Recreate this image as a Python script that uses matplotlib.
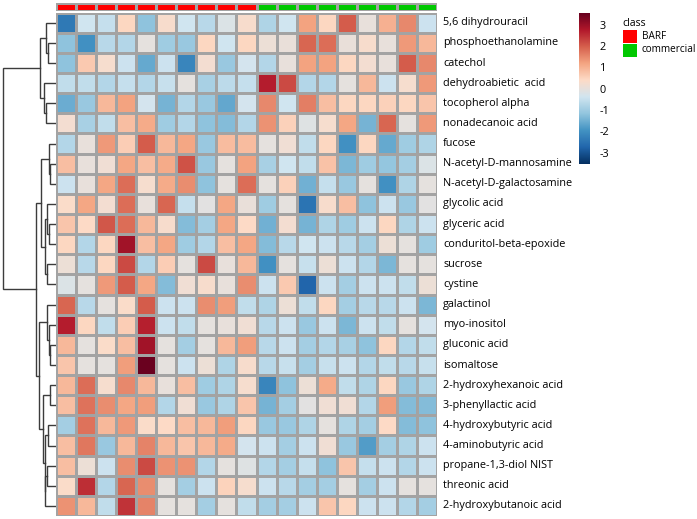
import numpy as np
import matplotlib
matplotlib.use("Agg")
import matplotlib.pyplot as plt
from matplotlib.colors import LinearSegmentedColormap, ListedColormap

# metabolite names (rows, top to bottom in clustered order)
metabolites = [
    "5,6 dihydrouracil", "phosphoethanolamine", "catechol", "dehydroabietic  acid",
    "tocopherol alpha", "nonadecanoic acid", "fucose", "N-acetyl-D-mannosamine",
    "N-acetyl-D-galactosamine", "glycolic acid", "glyceric acid",
    "conduritol-beta-epoxide", "sucrose", "cystine", "galactinol", "myo-inositol",
    "gluconic acid", "isomaltose", "2-hydroxyhexanoic acid", "3-phenyllactic acid",
    "4-hydroxybutyric acid", "4-aminobutyric acid", "propane-1,3-diol NIST",
    "threonic acid", "2-hydroxybutanoic acid",
]

# sample classes (columns)
sample_class = ["BARF"] * 10 + ["commercial"] * 9
class_colors = {"BARF": "#ff0000", "commercial": "#00c800"}

# autoscaled concentrations, one list per metabolite (19 samples)
z = [
    [-2.4, -0.4, -0.55, 0.45, -1.2, 0.3, -0.4, -0.7, -0.2, 0.3, -0.8, -0.4, 1.2, 0.45, 2.0, 0.0, 1.0, 1.5, -0.45],
    [-1.2, -2.0, -0.7, -0.75, -0.05, -1.0, -1.1, 0.45, -0.4, 0.45, 0.1, 0.05, 1.9, 1.8, 0.05, 0.3, 0.0, 1.3, 0.9],
    [-1.2, 0.65, 0.25, -0.45, -1.6, -0.45, -2.2, 0.2, -1.1, -0.35, -0.75, 0.0, 1.2, 1.2, 0.45, 0.2, 0.0, 2.0, 1.5],
    [-0.6, -0.6, -0.75, -0.55, -0.75, -0.5, -0.05, -0.9, -0.65, -0.55, 2.7, 2.2, -0.75, -0.75, -0.05, 0.9, -0.45, 0.25, 1.3],
    [-1.55, -1.1, 0.9, 1.2, -0.35, -1.45, -0.75, -1.1, -1.65, -0.35, 1.5, -0.4, 1.6, 0.8, 0.45, 0.45, 0.55, 0.45, 0.7],
    [0.2, -0.9, -0.6, 0.8, 1.1, -1.0, -0.75, -1.2, -1.3, -0.75, 1.4, 0.55, -0.15, 0.25, 1.15, -1.45, 1.9, -0.05, 1.3],
    [-0.75, 0.0, 1.3, 0.6, 2.0, 0.9, 1.15, -1.1, 0.85, 0.85, -0.05, 0.15, -0.6, 0.45, -2.0, 0.45, -1.6, -1.0, -0.8],
    [0.8, 0.0, 0.15, 1.15, 0.8, 1.1, 2.1, -1.1, -0.05, 1.2, -0.9, -0.4, -0.6, 0.75, -1.4, -1.0, -1.15, -0.95, -0.2],
    [-0.45, 0.0, 1.15, 1.8, 0.25, 1.1, 1.45, -1.2, -0.05, 1.8, -0.05, 0.55, -1.5, -0.55, -1.1, -0.05, -2.0, -0.8, -0.05],
    [0.35, 1.15, 0.2, 1.8, 0.0, 1.9, -0.55, -0.1, 1.15, 0.05, -1.0, -0.05, -2.5, 0.3, 0.8, -1.2, -0.45, -1.1, -0.1],
    [0.7, 0.4, 2.05, 1.8, 0.9, 0.3, -1.3, -0.95, 1.15, 0.4, -1.5, 0.2, -1.45, -0.8, -1.0, -0.45, 0.45, -0.8, -0.45],
    [0.45, -0.75, 0.45, 2.9, 0.8, 1.15, -1.0, -0.75, 0.8, 1.15, -1.3, -0.7, -0.4, -0.45, -0.7, -0.95, 0.1, -0.05, -1.0],
    [0.1, -0.7, 0.45, 2.2, -0.75, 0.6, -0.05, 2.2, 0.0, 0.9, -2.0, -0.05, -0.5, 0.1, -0.45, -0.75, -1.4, -0.05, -0.05],
    [-0.2, -0.05, 1.3, 2.0, 1.15, -1.3, 0.15, 0.3, 0.0, 1.45, -0.45, 0.65, -2.75, -0.45, -0.95, -0.45, -0.45, -0.6, 0.1],
    [1.9, -0.7, -0.05, 0.35, 2.0, -0.45, -0.45, 1.45, 1.25, -0.6, -0.8, 0.1, -0.6, 0.45, -0.95, -0.7, -0.7, -0.45, -1.4],
    [2.7, 0.45, -0.6, 0.6, 2.65, -0.45, -0.6, -0.05, 0.0, 0.15, -0.7, -0.45, -1.1, -0.45, -1.4, -0.45, -0.6, -0.05, -0.35],
    [0.9, -0.05, 0.35, 0.8, 2.9, -0.05, -0.95, -0.05, 0.9, 1.25, -0.7, -0.45, -0.95, -0.75, -0.9, -1.2, 0.45, -0.75, -0.6],
    [0.7, -0.05, -0.05, 1.25, 3.5, -0.05, -0.45, 0.1, -0.8, 0.3, -0.7, -0.5, -0.95, -0.5, -0.45, -0.75, -0.6, -0.7, -0.5],
    [0.9, 1.8, 0.25, 1.5, 0.9, 0.0, 0.8, -1.0, -0.8, 0.25, -2.2, -1.2, 0.1, 1.1, -0.6, -0.8, 0.45, -1.1, -0.8],
    [0.8, 1.75, 1.45, 1.15, 1.25, -0.75, 0.15, -1.1, -0.8, 0.7, -1.45, -0.95, -0.1, 0.15, 0.15, -0.75, 1.25, -1.3, -1.3],
    [-0.95, 1.75, 0.9, 1.3, 0.35, 0.4, 0.8, 0.9, 1.25, 0.45, -1.1, -1.1, -0.8, -0.05, -0.8, -0.95, 0.4, -1.3, -1.2],
    [0.8, 1.7, -1.1, 0.9, 1.55, 0.9, 0.7, 0.9, 1.1, -0.35, -0.45, -0.95, -0.45, 0.15, -1.1, -1.8, -0.95, -0.8, -0.45],
    [0.8, 0.1, -0.45, 1.45, 2.2, 1.4, 1.4, -0.75, -0.05, -0.15, -0.75, -0.95, -0.55, -1.2, 0.7, -0.55, -0.45, -0.75, -0.45],
    [0.35, 2.5, -0.75, 1.9, 1.45, -0.05, -0.95, -0.45, 0.5, 0.25, -0.45, -0.7, -0.95, -0.95, -0.05, -0.95, -0.45, -0.05, -0.05],
    [1.4, 0.9, -0.6, 2.45, 1.55, -0.05, -0.05, -0.95, -0.05, -0.6, -0.95, -0.95, -0.45, 0.7, 0.45, -0.45, -0.45, -0.75, -0.95],
]

# row clustering: (left, right, height); new clusters numbered from 25 upward
row_linkage = [
    (1, 2, 7.7), (0, 25, 10.3), (4, 5, 10.0), (3, 27, 11.7), (26, 28, 16.0),
    (7, 8, 6.0), (6, 30, 7.0), (10, 11, 6.5), (9, 32, 9.0), (12, 13, 9.3),
    (33, 34, 11.0), (31, 35, 15.5), (16, 17, 6.0), (15, 37, 6.5), (14, 38, 9.3),
    (18, 19, 6.0), (20, 21, 7.5), (22, 23, 9.0), (42, 24, 10.5), (41, 43, 11.0),
    (40, 44, 12.7), (39, 45, 17.5), (36, 46, 20.3), (29, 47, 53.3),
]

vmin, vmax = -3.53, 3.53
cmap = LinearSegmentedColormap.from_list(
    "rdbu10", ["#053061", "#2166AC", "#4393C3", "#92C5DE", "#D1E5F0",
               "#FDDBC7", "#F4A582", "#D6604D", "#B2182B", "#67001F"], N=256)

plt.rcParams["font.family"] = ["Open Sans", "DejaVu Sans"]
plt.rcParams["axes.unicode_minus"] = False

W, H = 697, 519
fig = plt.figure(figsize=(W / 100, H / 100), dpi=100)


def px_axes(x0, y0, x1, y1):
    return fig.add_axes([x0 / W, 1 - y1 / H, (x1 - x0) / W, (y1 - y0) / H])


data = np.array(z)
n_rows, n_cols = data.shape
border = "#a3a3a3"

# heatmap
ax = px_axes(56, 12.7, 437, 516)
ax.pcolormesh(data, cmap=cmap, vmin=vmin, vmax=vmax, edgecolors=border, linewidth=0.8)
ax.set_xlim(0, n_cols)
ax.set_ylim(n_rows, 0)
ax.axis("off")
for i, name in enumerate(metabolites):
    ax.text(n_cols + 0.3, i + 0.5, name, va="center", ha="left", fontsize=7.8)

# class annotation bar
ax_c = px_axes(56, 2.7, 437, 10.5)
cls_idx = np.array([[0 if c == "BARF" else 1 for c in sample_class]])
ax_c.pcolormesh(cls_idx, cmap=ListedColormap([class_colors["BARF"], class_colors["commercial"]]),
                vmin=0, vmax=1, edgecolors=border, linewidth=0.8)
ax_c.set_xlim(0, n_cols)
ax_c.axis("off")

# row dendrogram
ax_d = px_axes(0, 12.7, 56, 516)
pos = {i: (i + 0.5, 0.0) for i in range(n_rows)}
for k, (a, b, h) in enumerate(row_linkage):
    ya, ha = pos[a]
    yb, hb = pos[b]
    ax_d.plot([ha, h, h, hb], [ya, ya, yb, yb], color="#3c3c3c", lw=1.0,
              solid_joinstyle="miter")
    pos[n_rows + k] = ((ya + yb) / 2, h)
ax_d.set_xlim(56, 0)
ax_d.set_ylim(n_rows, 0)
ax_d.axis("off")

# colour key
ax_k = px_axes(579, 13.3, 590, 164)
grad = np.linspace(vmin, vmax, 256)[:, None]
ax_k.imshow(grad, cmap=cmap, vmin=vmin, vmax=vmax, aspect="auto", origin="lower",
            extent=[0, 1, vmin, vmax])
ax_k.set_xticks([])
ax_k.yaxis.tick_right()
ax_k.set_yticks([-3, -2, -1, 0, 1, 2, 3])
ax_k.tick_params(axis="y", length=0, labelsize=7.8, pad=7)
for s in ax_k.spines.values():
    s.set_visible(False)

# class legend
fig.text(622 / W, 1 - 24 / H, "class", fontsize=7.6, va="center", ha="left")
for j, (lab, col) in enumerate(class_colors.items()):
    y0 = 30 + j * 13.5
    fig.patches.append(plt.Rectangle((623 / W, 1 - (y0 + 13) / H), 14 / W, 13 / H,
                                     transform=fig.transFigure, facecolor=col,
                                     edgecolor="none"))
    fig.text(642 / W, 1 - (y0 + 6.5) / H, lab, fontsize=7.2, va="center", ha="left")

fig.savefig("out.png", dpi=100)
